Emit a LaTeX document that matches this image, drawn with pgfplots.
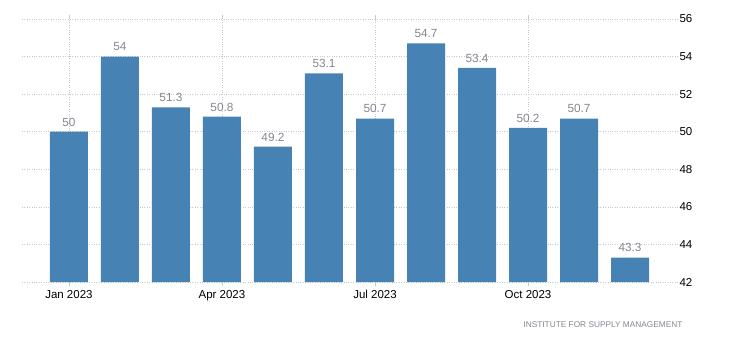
\documentclass[border=0pt]{standalone}
\usepackage{pgfplots}
\pgfplotsset{compat=1.18}
\usepackage{fontspec}
\setmainfont{Liberation Sans}
\definecolor{barblue}{HTML}{4682B4}
\definecolor{valgray}{HTML}{858590}
\definecolor{gridgray}{HTML}{C8C8C8}
\begin{document}
\begin{tikzpicture}
\path[use as bounding box] (-22pt,-69pt) rectangle (708pt,282pt);
\begin{axis}[
  at={(0pt,0pt)}, anchor=south west,
  scale only axis, width=656pt, height=263pt,
  xmin=-0.92, xmax=11.94, ymin=42, ymax=56,
  axis line style={draw=none},
  ybar, bar width=38pt,
  xtick={0,3,6,9},
  xticklabels={Jan 2023,Apr 2023,Jul 2023,Oct 2023},
  ytick={42,44,...,56},
  yticklabel pos=right,
  ymajorgrids, xmajorgrids,
  grid style={gridgray, dotted, line width=0.7pt},
  major x tick style={gridgray, line width=0.7pt},
  major tick length=4pt,
  ytick style={draw=none},
  x tick label style={font=\fontsize{11.5}{13}\selectfont, yshift=-1pt},
  y tick label style={font=\fontsize{11.5}{13}\selectfont, anchor=west, xshift=-2pt},
  /pgf/number format/assume math mode=true,
  nodes near coords,
  every node near coord/.append style={font=\fontsize{11.8}{13}\selectfont, text=valgray, yshift=2pt},
  clip=false,
]
\addplot[fill=barblue, draw=none] coordinates {
(0,50) (1,54) (2,51.3) (3,50.8) (4,49.2) (5,53.1) (6,50.7) (7,54.7) (8,53.4) (9,50.2) (10,50.7) (11,43.3)};
\end{axis}
\node[anchor=east, font=\fontsize{8.3}{9}\selectfont, text=valgray] at (664pt,-43pt) {INSTITUTE FOR SUPPLY MANAGEMENT};
\end{tikzpicture}
\end{document}
